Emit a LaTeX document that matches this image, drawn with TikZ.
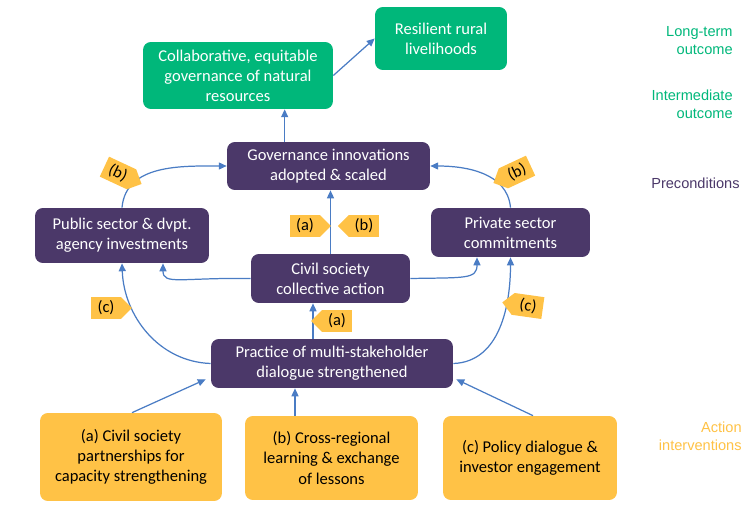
\documentclass[tikz,border=0pt]{standalone}
\usepackage{fontspec}
\setmainfont{Carlito}
\newfontfamily\labelfont{Liberation Sans}
\usetikzlibrary{arrows.meta,positioning,calc,shapes.symbols}
\definecolor{outgreen}{HTML}{00B77A}
\definecolor{precpurple}{HTML}{4B3869}
\definecolor{actorange}{HTML}{FFC246}
\definecolor{linkblue}{HTML}{4A7CC4}

\begin{document}
\begin{tikzpicture}[
  x=0.02cm, y=-0.02cm,
  box/.style={rounded corners=4.5pt, align=center, inner sep=0pt, font=\fontsize{9.4}{11.4}\selectfont, text=white, fill=#1},
  tag/.style={signal, signal to=#1, fill=actorange, minimum width=0.82cm, minimum height=0.44cm, inner sep=0pt, font=\fontsize{9.4}{11.4}\selectfont},
  link/.style={-{Triangle[length=4.5pt,width=4pt]}, linkblue, line width=0.7pt},
  side/.style={align=right, anchor=east, inner sep=0pt, font=\labelfont\fontsize{8.3}{10.2}\selectfont}
]
  \useasboundingbox (0,0) rectangle (755,510);

  % Outcomes
  \node[box=outgreen, minimum width=3.8cm, minimum height=1.34cm] (collab) at (238,75.5) {Collaborative, equitable\\governance of natural\\resources};
  \node[box=outgreen, minimum width=2.64cm, minimum height=1.26cm] (res) at (441,38.5) {Resilient rural\\livelihoods};

  % Preconditions
  \node[box=precpurple, minimum width=4.06cm, minimum height=0.96cm] (gov) at (328.5,166) {Governance innovations\\adopted \& scaled};
  \node[box=precpurple, minimum width=3.48cm, minimum height=1.1cm] (pub) at (122,235.5) {Public sector \& dvpt.\\agency investments};
  \node[box=precpurple, minimum width=3.18cm, minimum height=0.98cm] (priv) at (510.5,232.5) {Private sector\\commitments};
  \node[box=precpurple, minimum width=3.18cm, minimum height=0.98cm] (civ) at (330.5,278.5) {Civil society\\collective action};
  \node[box=precpurple, minimum width=4.84cm, minimum height=0.98cm] (prac) at (332,363.5) {Practice of multi-stakeholder\\dialogue strengthened};

  % Action interventions
  \node[box=actorange, text=black, minimum width=3.64cm, minimum height=1.76cm] (acta) at (131,457) {(a) Civil society\\partnerships for\\capacity strengthening};
  \node[box=actorange, text=black, minimum width=3.46cm, minimum height=1.68cm] (actb) at (331.5,458) {(b) Cross-regional\\learning \& exchange\\of lessons};
  \node[box=actorange, text=black, minimum width=3.48cm, minimum height=1.68cm] (actc) at (530,458) {(c) Policy dialogue \&\\investor engagement};

  % Level labels
  \node[side, text=outgreen] (ltlab) at (733,41) {Long-term\\outcome};
  \node[side, text=outgreen] (imlab) at (733,104) {Intermediate\\outcome};
  \node[side, text=precpurple] (prlab) at (740,183) {Preconditions};
  \node[side, text=actorange] (aclab) at (742,436) {Action\\interventions};

  % Links
  \coordinate (govup) at ($(gov.north west)+(58,0)$);
  \coordinate (pracup) at ($(prac.north)+(-19,0)$);
  \coordinate (pubin) at ($(pub.south)+(41,0)$);
  \coordinate (privin) at ($(priv.south)+(-33.5,0)$);
  \coordinate (actbup) at ($(actb.north)+(-36.5,0)$);
  \draw[link] (collab.east) -- (res.west);
  \draw[link] (govup) -- (govup |- collab.south);
  \draw[link] (civ.north) -- (civ.north |- gov.south);
  \draw[link] (pracup) -- (pracup |- civ.south);
  \draw[link] (pub.north) to[out=85,in=180] (gov.west);
  \draw[link] (priv.north) to[out=95,in=0] (gov.east);
  \draw[link] (civ.west) .. controls +(-70,-1) and +(0,22) .. (pubin);
  \draw[link] (civ.east) .. controls +(55,-1) and +(0,22) .. (privin);
  \draw[link] (prac.west) to[out=178,in=-88] (pub.south);
  \draw[link] (prac.east) to[out=2,in=-90] (priv.south);
  \draw[link] ($(acta.north)+(1,0)$) -- ($(prac.south west)+(-5,-9)$);
  \draw[link] (actbup) -- (actbup |- prac.south);
  \draw[link] ($(actc.north)+(3,0)$) -- ($(prac.south east)+(3,-9)$);

  % Tags
  \node[tag=east, rotate=-25] (tagb1) at (118,173) {(b)};
  \node[tag=west, rotate=25] (tagb2) at (517,172) {(b)};
  \node[tag=east] (taga1) at (305,226) {(a)};
  \node[tag=west, right=0.12cm of taga1] (tagb3) {(b)};
  \node[tag=west] (taga2) at (337,321) {(a)};
  \node[tag=east] (tagc1) at (106,308) {(c)};
  \node[tag=west, rotate=-8] (tagc2) at (528,306) {(c)};
\end{tikzpicture}
\end{document}
